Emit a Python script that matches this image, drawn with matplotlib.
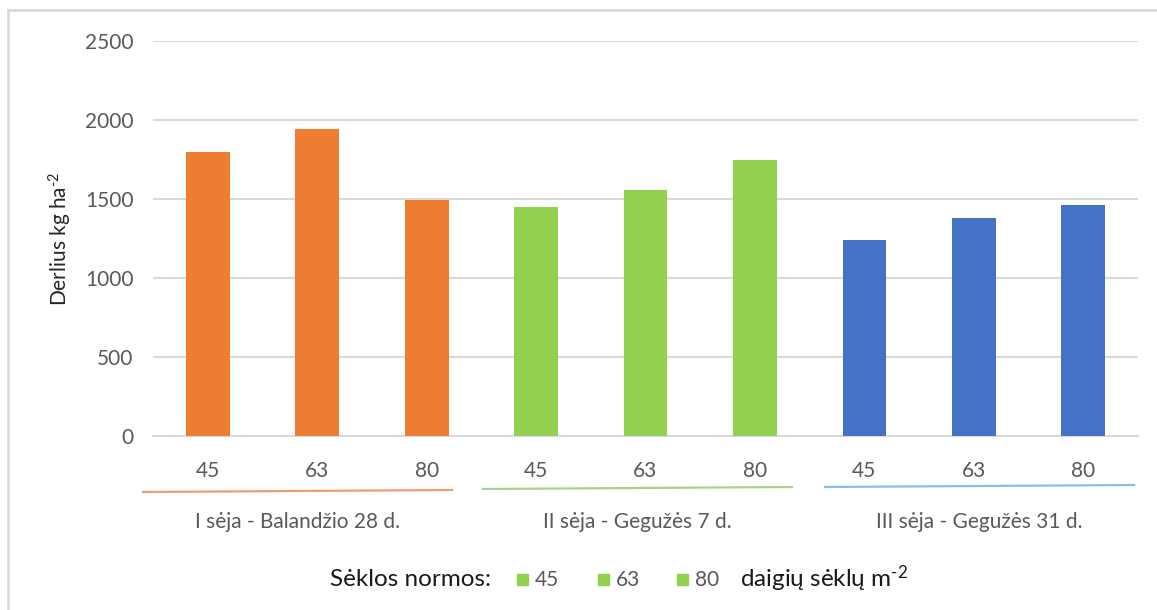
import matplotlib
matplotlib.use("Agg")
import matplotlib.pyplot as plt
from matplotlib.lines import Line2D
from matplotlib.patches import Rectangle

plt.rcParams['font.family'] = ['Lato', 'DejaVu Sans']
plt.rcParams['mathtext.fontset'] = 'custom'
plt.rcParams['mathtext.rm'] = 'Lato'
plt.rcParams['mathtext.default'] = 'regular'

# Sowing dates and seed rates
sowing_groups = ["I sėja - Balandžio 28 d.", "II sėja - Gegužės 7 d.", "III sėja - Gegužės 31 d."]
seed_rates = ["45", "63", "80"]
group_colors = ["#ED7D31", "#92D050", "#4472C4"]
underline_colors = ["#EE9F6A", "#A9D18E", "#8DBBE8"]

# Yield (kg/ha) per seed rate, one list per sowing date
yield_sowing_1 = [1800, 1940, 1495]
yield_sowing_2 = [1450, 1555, 1750]
yield_sowing_3 = [1240, 1380, 1460]
yields = [yield_sowing_1, yield_sowing_2, yield_sowing_3]

grey = "#595959"
grid_c = "#D9D9D9"
fs = 15

fig = plt.figure(figsize=(11.57, 6.10), dpi=100)
W, H = 1157, 610

def fx(px):
    return px / W

def fy(py):
    return 1 - py / H

ax = fig.add_axes([fx(153), fy(436), fx(1138) - fx(153), fy(41) - fy(436)])

pos = 0
tick_pos, tick_lab = [], []
for g, vals in enumerate(yields):
    for r, v in zip(seed_rates, vals):
        ax.bar(pos, v, width=0.4, color=group_colors[g], zorder=3)
        tick_pos.append(pos)
        tick_lab.append(r)
        pos += 1

ax.set_xlim(-0.5, pos - 0.5)
ax.set_ylim(0, 2500)
ax.set_yticks(range(0, 2501, 500))
ax.yaxis.grid(True, color=grid_c, linewidth=1.5, zorder=0)
ax.set_axisbelow(True)
for s in ['top', 'right', 'left']:
    ax.spines[s].set_visible(False)
ax.spines['bottom'].set_color(grid_c)
ax.spines['bottom'].set_linewidth(1.5)
ax.tick_params(axis='both', length=0, labelsize=fs, labelcolor=grey)
ax.tick_params(axis='y', pad=14)
ax.tick_params(axis='x', pad=18)
ax.set_xticks(tick_pos)
ax.set_xticklabels(tick_lab)

ax.set_ylabel(r"Derlius kg ha$^{\text{-}2}$", fontsize=fs, color="#262626", labelpad=8)

# Group underlines and labels below the seed-rate ticks
spans = [(143, 452, 492, 490), (483, 792, 489, 487), (825, 1134, 487, 485)]
for (x0, x1, y0, y1), c, lab in zip(spans, underline_colors, sowing_groups):
    fig.add_artist(Line2D([fx(x0), fx(x1)], [fy(y0), fy(y1)], color=c, linewidth=1.6))
    fig.text(fx((x0 + x1) / 2), fy(522), lab, ha='center', va='center', fontsize=fs, color=grey)

# Legend row
fig.text(fx(330), fy(579), "Sėklos normos:", ha='left', va='center', fontsize=17.5, color="#1a1a1a")
for sq_x, lab in zip([517, 598, 677], seed_rates):
    fig.add_artist(Rectangle((fx(sq_x), fy(585)), fx(11), 11 / H, color="#92D050",
                             transform=fig.transFigure))
    fig.text(fx(sq_x + 18), fy(580), lab, ha='left', va='center', fontsize=fs, color=grey)
fig.text(fx(740), fy(579), r"daigių sėklų m$^{\text{-}2}$", ha='left', va='center', fontsize=17.5,
         color="#1a1a1a")

# Partial chart frame
fig.add_artist(Line2D([fx(8), fx(8)], [fy(10), 0], color=grid_c, linewidth=2))
fig.add_artist(Line2D([fx(8), 1], [fy(10), fy(10)], color=grid_c, linewidth=2))

fig.savefig("out.png", dpi=100)
